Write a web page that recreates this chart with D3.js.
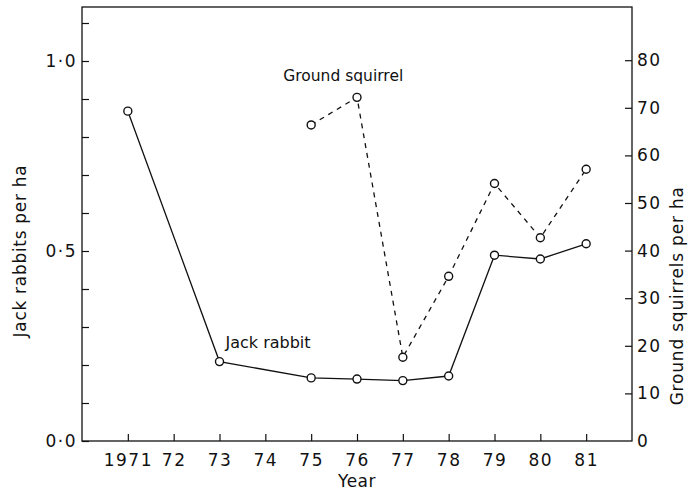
<!DOCTYPE html>
<html>
<head>
<meta charset="utf-8">
<script src="https://cdn.jsdelivr.net/npm/d3@7"></script>
<style>
  body { margin: 0; background: #fff; }
  text { font-family: "DejaVu Sans", sans-serif; fill: #111; }
</style>
</head>
<body>
<script>
// data
const years = [1971, 1973, 1975, 1976, 1977, 1978, 1979, 1980, 1981];
const jackRabbit = [0.868, 0.209, 0.166, 0.163, 0.159, 0.171, 0.489, 0.479, 0.519];
const squirrelYears = [1975, 1976, 1977, 1978, 1979, 1980, 1981];
const groundSquirrel = [66.4, 72.2, 17.6, 34.6, 54.1, 42.7, 57.1];

const yearTicks = [1971, 1972, 1973, 1974, 1975, 1976, 1977, 1978, 1979, 1980, 1981];
const yearLabels = ["1971", "72", "73", "74", "75", "76", "77", "78", "79", "80", "81"];
const leftTicks = [0, 0.1, 0.2, 0.3, 0.4, 0.5, 0.6, 0.7, 0.8, 0.9, 1.0, 1.1];
const leftLabels = {"0": "0·0", "0.5": "0·5", "1": "1·0"};
const rightTicks = [0, 10, 20, 30, 40, 50, 60, 70, 80];

// dimensions
const W = 689, H = 490;
const margin = {top: 7, right: 57, bottom: 49, left: 82};
const width = W - margin.left - margin.right;
const height = H - margin.top - margin.bottom;

const svg = d3.select("body").append("svg")
  .attr("width", W)
  .attr("height", H)
  .append("g")
  .attr("transform", `translate(${margin.left}, ${margin.top})`);

// scales
const x = d3.scaleLinear().domain([1970, 1982]).range([0, width]);
const yL = d3.scaleLinear().domain([0, 434 / 380]).range([height, 0]);
const yR = d3.scaleLinear().domain([0, 434 / 4.76]).range([height, 0]);

// frame
svg.append("rect")
  .attr("width", width).attr("height", height)
  .attr("fill", "none").attr("stroke", "#111").attr("stroke-width", 1.3);

// axes (ticks inward)
const axeX = d3.axisBottom(x).tickValues(yearTicks)
  .tickSize(-7).tickPadding(13)
  .tickFormat((d, i) => yearLabels[i]);
const gx = svg.append("g").attr("transform", `translate(0, ${height})`).call(axeX);

const axeL = d3.axisLeft(yL).tickValues(leftTicks)
  .tickSize(-7).tickPadding(5)
  .tickFormat(d => leftLabels[String(+d.toFixed(1))] || "");
const gl = svg.append("g").call(axeL);

const axeR = d3.axisRight(yR).tickValues(rightTicks)
  .tickSize(-7).tickPadding(5)
  .tickFormat(d => d);
const gr = svg.append("g").attr("transform", `translate(${width}, 0)`).call(axeR);

[gx, gl, gr].forEach(g => {
  g.select(".domain").remove();
  g.selectAll("line").attr("stroke", "#111").attr("stroke-width", 1.2);
  g.selectAll("text")
    .style("font-family", '"DejaVu Sans", sans-serif')
    .style("font-size", "17px")
    .style("letter-spacing", "1.5px")
    .attr("fill", "#111");
});
gr.selectAll(".tick").filter(d => d === 0).select("line").remove();

// lines
const jackData = years.map((d, i) => ({year: d, v: jackRabbit[i]}));
const sqData = squirrelYears.map((d, i) => ({year: d, v: groundSquirrel[i]}));

const lineJ = d3.line().x(d => x(d.year)).y(d => yL(d.v));
const lineS = d3.line().x(d => x(d.year)).y(d => yR(d.v));

svg.append("path")
  .attr("d", lineS(sqData))
  .attr("fill", "none").attr("stroke", "#111")
  .attr("stroke-width", 1.3).attr("stroke-dasharray", "5,5");

svg.append("path")
  .attr("d", lineJ(jackData))
  .attr("fill", "none").attr("stroke", "#111").attr("stroke-width", 1.3);

svg.selectAll(".sq").data(sqData).enter().append("circle")
  .attr("cx", d => x(d.year)).attr("cy", d => yR(d.v)).attr("r", 4)
  .attr("fill", "#fff").attr("stroke", "#111").attr("stroke-width", 1.4);

svg.selectAll(".jr").data(jackData).enter().append("circle")
  .attr("cx", d => x(d.year)).attr("cy", d => yL(d.v)).attr("r", 4)
  .attr("fill", "#fff").attr("stroke", "#111").attr("stroke-width", 1.4);

// series labels
svg.append("text")
  .attr("x", x(1975.7)).attr("y", yR(72.2) - 16)
  .attr("text-anchor", "middle")
  .style("font-size", "15.5px")
  .text("Ground squirrel");

svg.append("text")
  .attr("x", x(1973.13)).attr("y", yL(0.209) - 14)
  .style("font-size", "16px")
  .text("Jack rabbit");

// axis titles
svg.append("text")
  .attr("x", width / 2).attr("y", height + 46)
  .attr("text-anchor", "middle")
  .style("font-size", "17px")
  .style("letter-spacing", "0.5px")
  .text("Year");

svg.append("text")
  .attr("transform", `translate(-56, ${yL(0.5)}) rotate(-90)`)
  .attr("text-anchor", "middle")
  .style("font-size", "17px")
  .style("letter-spacing", "0.7px")
  .text("Jack rabbits per ha");

svg.append("text")
  .attr("transform", `translate(${width + 51}, ${yR(30.5)}) rotate(-90)`)
  .attr("text-anchor", "middle")
  .style("font-size", "17px")
  .style("letter-spacing", "0.8px")
  .text("Ground squirrels per ha");
</script>
</body>
</html>
